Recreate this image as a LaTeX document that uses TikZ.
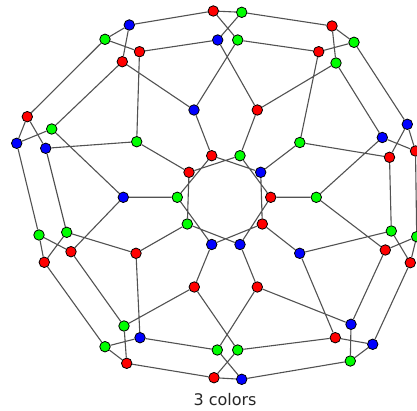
\documentclass[tikz,border=0pt]{standalone}
\usepackage{fontspec}
\setmainfont{DejaVu Sans}
\begin{document}
\begin{tikzpicture}[x=1pt,y=-1pt,
  vtx/.style={circle,draw=black,line width=0.8pt,minimum size=10.5pt,inner sep=0pt},
  R/.style={vtx,fill=red},
  G/.style={vtx,fill=green},
  B/.style={vtx,fill=blue},
  edge/.style={draw=black!68,line width=1.1pt}]
\useasboundingbox (0,0) rectangle (417,411);
\clip (0,0) rectangle (417,411);
% top cluster
\node[R] (t1) at (213.3,11) {};
\node[G] (t2) at (241.7,12.3) {};
\node[B] (t3) at (217.7,40) {};
\node[G] (t4) at (237.7,40) {};
% top-left
\node[B] (a1) at (129.3,25) {};
\node[G] (a2) at (105,39.3) {};
\node[R] (a3) at (139.5,51.7) {};
\node[R] (a4) at (122.3,61.7) {};
% top-right
\node[R] (b1) at (332,26) {};
\node[G] (b2) at (354,42.3) {};
\node[R] (b3) at (318.7,51.7) {};
\node[G] (b4) at (336,63) {};
% left-top
\node[R] (c1) at (27.3,116.7) {};
\node[G] (c2) at (51.7,129) {};
\node[B] (c3) at (16.7,143.3) {};
\node[B] (c4) at (45.7,148.3) {};
% right-top
\node[B] (d1) at (407.3,124.3) {};
\node[B] (d2) at (382.3,137.5) {};
\node[R] (d3) at (389.5,157.3) {};
\node[R] (d4) at (415.5,151) {};
% left-bottom
\node[G] (e1) at (39,235) {};
\node[G] (e2) at (66.7,232.3) {};
\node[R] (e3) at (44.3,262.3) {};
\node[R] (e4) at (71,251.7) {};
% right-bottom
\node[G] (f1) at (391.3,231) {};
\node[G] (f2) at (416.7,236.7) {};
\node[R] (f3) at (385.3,250) {};
\node[R] (f4) at (410.3,262.7) {};
% bottom-left
\node[G] (g1) at (124,326) {};
\node[G] (g2) at (105,346.7) {};
\node[B] (g3) at (140,337.7) {};
\node[R] (g4) at (126.7,363.3) {};
% bottom
\node[G] (h1) at (217.3,350) {};
\node[G] (h2) at (237.7,350) {};
\node[R] (h3) at (214,377.7) {};
\node[B] (h4) at (241.7,379.3) {};
% bottom-right
\node[B] (k1) at (351,324.3) {};
\node[R] (k2) at (335.3,337.7) {};
\node[B] (k3) at (372.7,344.3) {};
\node[G] (k4) at (350.3,361) {};
% middle ring
\node[B] (m1) at (194,110) {};
\node[R] (m2) at (257.3,110) {};
\node[G] (m3) at (299.8,142.5) {};
\node[G] (m4) at (316.3,197.3) {};
\node[B] (m5) at (299.7,253.3) {};
\node[R] (m6) at (257.3,287) {};
\node[R] (m7) at (194.3,287) {};
\node[R] (m8) at (136,253.3) {};
\node[B] (m9) at (123.3,197.3) {};
\node[G] (m10) at (136.7,141.7) {};
% inner ring
\node[R] (r0) at (270.7,197.3) {};
\node[B] (r1) at (260.7,172.3) {};
\node[G] (r2) at (240,155.7) {};
\node[R] (r3) at (211.7,155.7) {};
\node[R] (r4) at (189,172.3) {};
\node[G] (r5) at (177.3,197.3) {};
\node[G] (r6) at (187.3,224) {};
\node[B] (r7) at (211.7,244.5) {};
\node[B] (r8) at (240,244.5) {};
\node[R] (r9) at (262.3,224) {};
% label
\node[font=\fontsize{16}{16}\selectfont,text=black!85] (lab) at (225,400) {3 colors};
% edges
\path[edge]
 % inner pentagrams
 (r0) -- (r2) (r2) -- (r4) (r4) -- (r6) (r6) -- (r8) (r8) -- (r0)
 (r1) -- (r3) (r3) -- (r5) (r5) -- (r7) (r7) -- (r9) (r9) -- (r1)
 % radial
 (r0) -- (m4) (r1) -- (m3) (r2) -- (m2) (r3) -- (m1) (r4) -- (m10)
 (r5) -- (m9) (r6) -- (m8) (r7) -- (m7) (r8) -- (m6) (r9) -- (m5)
 % middle ring outwards
 (m1) -- (a4) (m1) -- (t4)
 (m2) -- (t3) (m2) -- (b4)
 (m3) -- (b3) (m3) -- (d3)
 (m4) -- (d2) (m4) -- (f3)
 (m5) -- (f1) (m5) -- (k2)
 (m6) -- (k1) (m6) -- (h1)
 (m7) -- (h2) (m7) -- (g1)
 (m8) -- (g3) (m8) -- (e2)
 (m9) -- (e4) (m9) -- (c2)
 (m10) -- (c4) (m10) -- (a3)
 % top cluster
 (t1) -- (t2) (t1) -- (t4) (t2) -- (t3) (t1) -- (a1) (t2) -- (b1)
 (t3) -- (a3) (t4) -- (b3)
 % top-left
 (a1) -- (a2) (a1) -- (a4) (a2) -- (a3) (a2) -- (c1) (a4) -- (c2)
 % top-right
 (b1) -- (b2) (b1) -- (b4) (b3) -- (b2) (b2) -- (d1) (b4) -- (d2)
 % left-top
 (c1) -- (c3) (c1) -- (c4) (c2) -- (c3) (c3) -- (e1) (c4) -- (e2)
 % right-top
 (d1) -- (d3) (d1) -- (d4) (d2) -- (d4) (d3) -- (f1) (d4) -- (f2)
 % left-bottom
 (e1) -- (e3) (e1) -- (e4) (e2) -- (e3) (e3) -- (g2) (e4) -- (g1)
 % right-bottom
 (f1) -- (f4) (f2) -- (f3) (f2) -- (f4) (f3) -- (k1) (f4) -- (k3)
 % bottom-left
 (g1) -- (g4) (g2) -- (g3) (g2) -- (g4) (g3) -- (h1) (g4) -- (h3)
 % bottom
 (h1) -- (h4) (h2) -- (h3) (h3) -- (h4) (h2) -- (k2) (h4) -- (k4)
 % bottom-right
 (k1) -- (k4) (k2) -- (k3) (k3) -- (k4);
\end{tikzpicture}
\end{document}
